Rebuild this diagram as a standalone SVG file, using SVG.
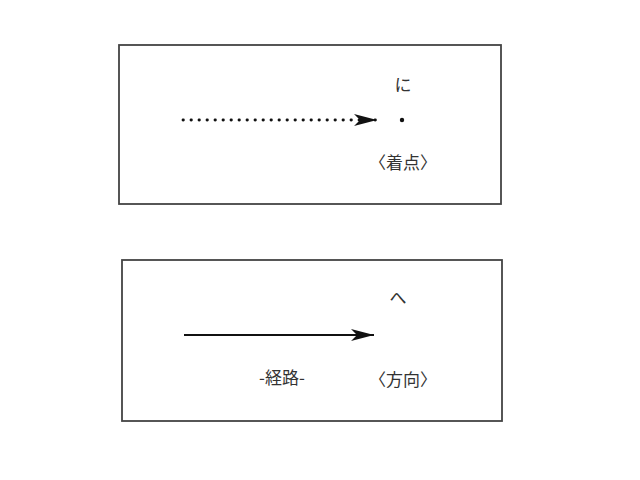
<svg xmlns="http://www.w3.org/2000/svg" width="640" height="480" viewBox="0 0 640 480">
<style>
.box{fill:none;stroke:#444;stroke-width:1.8}
.t{font-family:"Noto Sans CJK JP","Liberation Serif",serif;font-size:17px;fill:#333;text-anchor:middle}
</style>
<defs>
<marker id="ah" markerWidth="24" markerHeight="12" refX="23" refY="6" orient="auto" markerUnits="userSpaceOnUse">
<path d="M0,0 L23,6 L0,12 L6,6 Z" fill="#111"/>
</marker>
</defs>
<rect width="640" height="480" fill="#fff"/>
<g id="box-top">
<rect class="box" x="119" y="45" width="382" height="159"/>
<circle cx="402" cy="120" r="2.2" fill="#111"/>
<text class="t" x="403" y="91">に</text>
<text class="t" x="403" y="169">〈着点〉</text>
</g>
<g id="box-bottom">
<rect class="box" x="122" y="260" width="380" height="161"/>
<text class="t" x="398" y="304">へ</text>
<text class="t" x="282" y="384">-経路-</text>
<text class="t" x="403" y="386">〈方向〉</text>
</g>
<g id="connectors">
<line x1="183" y1="120" x2="377" y2="120" stroke="#111" stroke-width="2.8" stroke-linecap="round" stroke-dasharray="0.4,7.6" marker-end="url(#ah)"/>
<line x1="184" y1="335" x2="374" y2="335" stroke="#111" stroke-width="2.2" marker-end="url(#ah)"/>
</g>
</svg>
